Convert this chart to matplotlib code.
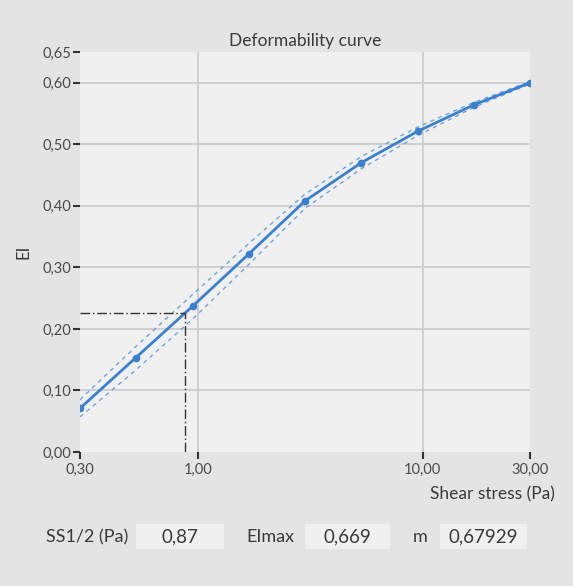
import matplotlib
matplotlib.use("Agg")
import matplotlib.pyplot as plt
from matplotlib.patches import Rectangle

plt.rcParams['font.family'] = ['Lato', 'DejaVu Sans']

# Data
shear_stress = [0.30, 0.53, 0.95, 1.69, 3.00, 5.33, 9.49, 16.87, 30.00]
ei_values = [0.071, 0.153, 0.237, 0.322, 0.408, 0.470, 0.521, 0.564, 0.600]
ei_upper = [0.085, 0.171, 0.256, 0.339, 0.419, 0.480, 0.528, 0.568, 0.602]
ei_lower = [0.057, 0.133, 0.216, 0.305, 0.396, 0.460, 0.514, 0.560, 0.598]
ss_half = 0.88
ei_at_half = 0.226
x_ticks = [0.30, 1.00, 10.00, 30.00]
x_ticklabels = ["0,30", "1,00", "10,00", "30,00"]
y_ticks = [0.00, 0.10, 0.20, 0.30, 0.40, 0.50, 0.60, 0.65]
y_ticklabels = ["0,00", "0,10", "0,20", "0,30", "0,40", "0,50", "0,60", "0,65"]
param_labels = ["SS1/2 (Pa)", "EImax", "m"]
param_values = ["0,87", "0,669", "0,67929"]

W, H = 573, 586
fig = plt.figure(figsize=(W/100, H/100), dpi=100)
fig.patch.set_facecolor('#e4e4e4')

ax = fig.add_axes([80/W, 1-452/H, 450/W, 400/H])
ax.set_facecolor('#f0f0f0')
ax.set_xscale('log')
ax.set_xlim(0.3, 30)
ax.set_ylim(0, 0.65)
for s in ax.spines.values():
    s.set_visible(False)

ax.set_xticks(x_ticks)
ax.set_xticklabels(x_ticklabels)
ax.xaxis.set_minor_locator(matplotlib.ticker.NullLocator())
ax.set_yticks(y_ticks)
ax.set_yticklabels(y_ticklabels)
ax.tick_params(axis='both', colors='#333333', labelcolor='#4a4a4a', labelsize=10.5,
               length=5, width=1.5, pad=1)
ax.tick_params(axis='x', pad=3)

# gridlines
for gx in [1.0, 10.0]:
    ax.axvline(gx, color='#cdcdcd', lw=1.3, zorder=0)
for gy in [0.1, 0.2, 0.3, 0.4, 0.5, 0.6]:
    ax.axhline(gy, color='#cdcdcd', lw=1.3, zorder=0)

blue = '#3b80cf'
light = '#6fa3e0'
ax.plot(shear_stress, ei_upper, color=light, lw=1.0, ls=(0, (3, 3)), zorder=2)
ax.plot(shear_stress, ei_lower, color=light, lw=1.0, ls=(0, (3, 3)), zorder=2)
ax.plot(shear_stress, ei_values, color=blue, lw=2.0, marker='o', ms=4.5, zorder=3)

# SS1/2 markers
ax.plot([0.3, ss_half], [ei_at_half, ei_at_half], color='#333333', lw=1.0,
        ls=(0, (7, 2, 1, 2)), zorder=4)
ax.plot([ss_half, ss_half], [0, ei_at_half], color='#333333', lw=1.0,
        ls=(0, (7, 2, 1, 2)), zorder=4)

ax.set_title("Deformability curve", fontsize=12.5, color='#3a3a3a', pad=4)
ax.set_ylabel("EI", fontsize=12, color='#3a3a3a', labelpad=8)
fig.text(555/W, 1-494/H, "Shear stress (Pa)", ha='right', va='center',
         fontsize=12.5, color='#3a3a3a')

# parameter boxes
label_x = [128, 295, 428]
box_x = [(136, 224), (305, 390), (440, 527)]
for lab, val, lx, (b0, b1) in zip(param_labels, param_values, label_x, box_x):
    fig.text(lx/W, 1-537/H, lab, ha='right', va='center', fontsize=13, color='#3a3a3a')
    fig.patches.append(Rectangle((b0/W, 1-549/H), (b1-b0)/W, 25/H,
                                 transform=fig.transFigure, facecolor='#f0f0f0',
                                 edgecolor='none'))
    fig.text((b0+b1)/2/W, 1-537/H, val, ha='center', va='center', fontsize=13.5,
             color='#3a3a3a')

fig.savefig("out.png", dpi=100, facecolor=fig.get_facecolor())
